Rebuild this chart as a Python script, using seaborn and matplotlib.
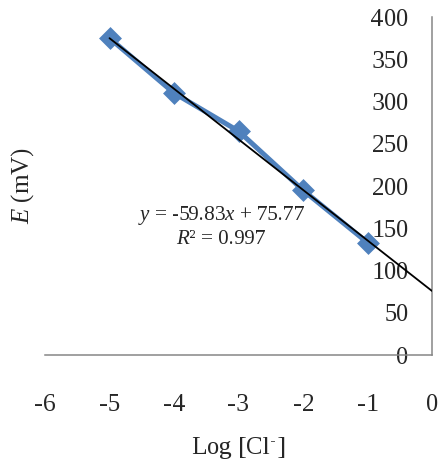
import numpy as np
import pandas as pd
import matplotlib as mpl
mpl.use('Agg')
import matplotlib.pyplot as plt
import seaborn as sns

# data
log_cl = [-5, -4, -3, -2, -1]
e_mv = [375, 310, 265, 195, 133]
# linear trendline shown on the chart
slope = -59.83
intercept = 75.77
r2 = 0.997

sns.set_style('white')
plt.rcParams['font.family'] = ['Liberation Serif', 'DejaVu Serif']
plt.rcParams['mathtext.fontset'] = 'custom'
plt.rcParams['mathtext.rm'] = 'Liberation Serif'
plt.rcParams['mathtext.it'] = 'Liberation Serif:italic'
plt.rcParams['axes.unicode_minus'] = False
plt.rcParams['text.hinting_factor'] = 1

fig = plt.figure(figsize=(4.43, 4.69), dpi=100)
ax = fig.add_axes([45 / 443, 1 - 355 / 469, 387 / 443, 338 / 469])

df = pd.DataFrame({'x': log_cl, 'y': e_mv})
blue = '#4F81BD'
sns.lineplot(data=df, x='x', y='y', ax=ax, color=blue, linewidth=3.6,
             marker='D', markersize=9, markeredgecolor=blue,
             markeredgewidth=2.5, solid_joinstyle='round')
for ln in ax.lines:
    ln.set_markeredgewidth(2.5)

xt = np.array([log_cl[0], 0])
ax.plot(xt, slope * xt + intercept, color='black', linewidth=1.3, zorder=3)

ax.set_xlim(-6, 0)
ax.set_ylim(0, 400)
ax.set_xticks(range(-6, 1))
ax.set_yticks(range(0, 401, 50))

for s in ['top', 'right']:
    ax.spines[s].set_visible(False)
ax.spines['left'].set_position(('data', 0))
ax.spines['left'].set_zorder(0)
for s in ['left', 'bottom']:
    ax.spines[s].set_color('#868686')
    ax.spines[s].set_linewidth(1.1)

ax.tick_params(axis='y', length=0, pad=17, labelsize=18)
ax.tick_params(axis='x', length=0, pad=28, labelsize=18)

ax.set_xlabel('Log [Cl$^{\\text{-}}$]', fontsize=18, va='center')
ax.set_ylabel('$\\mathit{E}$ (mV)', fontsize=18, va='center')
ax.xaxis.set_label_coords(0.5, -0.275)
ax.yaxis.set_label_coords(-0.059, 0.5)

ax.text(-3.27, 165, f'$\\mathit{{y}}$ = {slope}$\\mathit{{x}}$ + {intercept}',
        ha='center', va='center', fontsize=15)
ax.text(-3.27, 137, f'$\\mathit{{R}}$² = {r2}', ha='center', va='center', fontsize=15)

fig.savefig('out.png', dpi=100)
